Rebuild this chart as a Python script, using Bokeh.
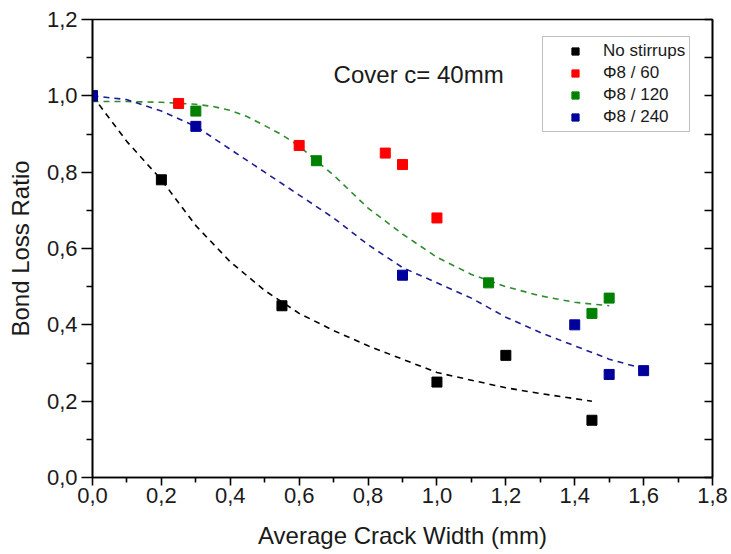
from bokeh.plotting import figure
from bokeh.models import (Range1d, FixedTicker, LinearAxis, CustomJSTickFormatter,
                          Legend, LegendItem, Label)
from bokeh.embed import file_html
from bokeh.resources import INLINE

# ---- measured points ----
no_stirrups_x = [0.0, 0.2, 0.55, 1.0, 1.2, 1.45]
no_stirrups_y = [1.0, 0.78, 0.45, 0.25, 0.32, 0.15]
phi8_60_x = [0.25, 0.6, 0.85, 0.9, 1.0]
phi8_60_y = [0.98, 0.87, 0.85, 0.82, 0.68]
phi8_120_x = [0.3, 0.65, 1.15, 1.45, 1.5]
phi8_120_y = [0.96, 0.83, 0.51, 0.43, 0.47]
phi8_240_x = [0.0, 0.3, 0.9, 1.4, 1.5, 1.6]
phi8_240_y = [1.0, 0.92, 0.53, 0.40, 0.27, 0.28]

# ---- fitted (dashed) trend curves ----
fit_black_x = [0.0, 0.1, 0.2, 0.3, 0.4, 0.5, 0.6, 0.7, 0.8, 0.9, 1.0, 1.1, 1.2, 1.3, 1.45]
fit_black_y = [1.0, 0.88, 0.78, 0.66, 0.565, 0.49, 0.43, 0.385, 0.345, 0.31, 0.275, 0.255, 0.235, 0.22, 0.2]
fit_green_x = [0.0, 0.1, 0.2, 0.3, 0.35, 0.4, 0.45, 0.5, 0.55, 0.6, 0.7, 0.8, 0.9, 1.0, 1.1, 1.2, 1.3, 1.4, 1.5]
fit_green_y = [0.985, 0.985, 0.983, 0.978, 0.972, 0.962, 0.945, 0.922, 0.898, 0.868, 0.792, 0.706, 0.638, 0.577, 0.532, 0.500, 0.476, 0.459, 0.450]
fit_blue_x = [0.0, 0.1, 0.2, 0.3, 0.4, 0.5, 0.6, 0.7, 0.8, 0.9, 1.0, 1.1, 1.2, 1.3, 1.4, 1.5, 1.6]
fit_blue_y = [1.0, 0.99, 0.96, 0.92, 0.86, 0.80, 0.74, 0.68, 0.61, 0.55, 0.51, 0.47, 0.42, 0.38, 0.345, 0.31, 0.285]

# ---- ticks ----
x_major = [0.0, 0.2, 0.4, 0.6, 0.8, 1.0, 1.2, 1.4, 1.6, 1.8]
x_minor = [0.1, 0.3, 0.5, 0.7, 0.9, 1.1, 1.3, 1.5, 1.7]
y_major = [0.0, 0.2, 0.4, 0.6, 0.8, 1.0, 1.2]
y_minor = [0.1, 0.3, 0.5, 0.7, 0.9, 1.1]
y_right = [0.0, 0.1, 0.2, 0.3, 0.4, 0.5, 0.6, 0.7, 0.8, 0.9, 1.0, 1.1, 1.2]

series_names = ["No stirrups", "\u03a68 / 60", "\u03a68 / 120", "\u03a68 / 240"]
marker_colors = ["#000000", "#ff0000", "#008000", "#00009c"]
line_colors = ["#000000", "#2e8b2e", "#1c1c96"]

FONT = "Liberation Sans"

p = figure(width=731, height=554, output_backend="svg", toolbar_location=None,
           x_range=Range1d(0, 1.8), y_range=Range1d(0, 1.2),
           min_border_left=92, min_border_right=19, min_border_top=19, min_border_bottom=77)
p.grid.visible = False
p.background_fill_color = "white"
p.outline_line_color = "black"
p.outline_line_width = 1.6

fmt = CustomJSTickFormatter(code="return tick.toFixed(1).replace('.', ',');")

xa = p.xaxis[0]
xa.ticker = FixedTicker(ticks=x_major, minor_ticks=x_minor)
xa.formatter = fmt
xa.axis_label = "Average Crack Width (mm)"
xa.major_tick_out = 8
xa.major_tick_in = 0
xa.minor_tick_out = 5
xa.minor_tick_in = 0
xa.major_label_standoff = 2
xa.axis_label_standoff = 16

ya = p.yaxis[0]
ya.ticker = FixedTicker(ticks=y_major, minor_ticks=y_minor)
ya.formatter = fmt
ya.axis_label = "Bond Loss Ratio"
ya.major_tick_out = 11
ya.major_tick_in = 0
ya.minor_tick_out = 6
ya.minor_tick_in = 0
ya.major_label_standoff = 4
ya.axis_label_standoff = 10

for ax in (xa, ya):
    ax.axis_line_width = 1.6
    ax.major_tick_line_width = 1.6
    ax.minor_tick_line_width = 1.6
    ax.major_label_text_font = FONT
    ax.major_label_text_font_size = "22px"
    ax.major_label_text_color = "#1a1a1a"
    ax.axis_label_text_font = FONT
    ax.axis_label_text_font_size = "24px"
    ax.axis_label_text_font_style = "normal"
    ax.axis_label_text_color = "#1a1a1a"

ra = LinearAxis(ticker=FixedTicker(ticks=y_right, minor_ticks=[]),
                formatter=CustomJSTickFormatter(code="return '';"),
                major_tick_in=8, major_tick_out=0, minor_tick_in=0, minor_tick_out=0,
                axis_line_width=1.6, major_tick_line_width=1.6,
                major_label_standoff=0, major_label_text_font_size="1px")
p.add_layout(ra, "right")

# dashed trend curves
p.line(fit_black_x, fit_black_y, line_color=line_colors[0], line_dash="6 5", line_width=1.6)
p.line(fit_green_x, fit_green_y, line_color=line_colors[1], line_dash="6 5", line_width=1.6)
p.line(fit_blue_x, fit_blue_y, line_color=line_colors[2], line_dash="6 5", line_width=1.6)

# markers
xs = [no_stirrups_x, phi8_60_x, phi8_120_x, phi8_240_x]
ys = [no_stirrups_y, phi8_60_y, phi8_120_y, phi8_240_y]
renderers = []
for sx, sy, c in zip(xs, ys, marker_colors):
    r = p.scatter(sx, sy, marker="square", size=10, fill_color=c, line_color=c, line_width=1)
    renderers.append(r)

legend = Legend(items=[LegendItem(label=n, renderers=[r]) for n, r in zip(series_names, renderers)],
                location=(450, 345))
legend.border_line_color = "#808080"
legend.border_line_width = 1
legend.background_fill_color = "white"
legend.background_fill_alpha = 1.0
legend.label_text_font = FONT
legend.label_text_font_size = "17px"
legend.label_text_color = "#1a1a1a"
legend.glyph_width = 56
legend.glyph_height = 18
legend.label_height = 18
legend.spacing = 2
legend.padding = 4
legend.margin = 0
legend.label_standoff = 0
p.add_layout(legend, "center")

p.add_layout(Label(x=0.70, y=1.056, text="Cover c= 40mm", text_font=FONT,
                   text_font_size="24px", text_color="#1a1a1a", text_baseline="alphabetic"))

open("out.html", "w").write(file_html(p, INLINE))
